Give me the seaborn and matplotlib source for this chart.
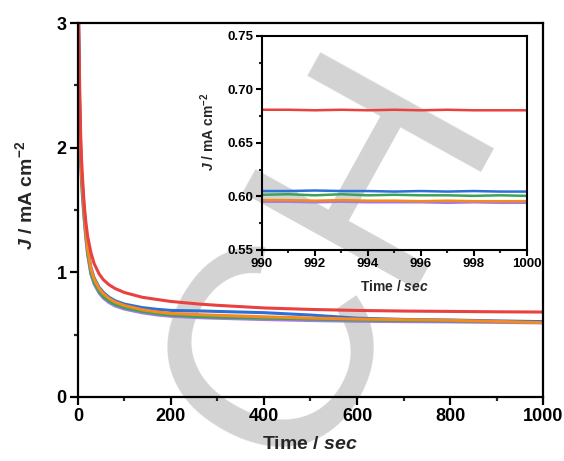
import matplotlib
matplotlib.use("Agg")
import matplotlib.pyplot as plt
import numpy as np
import pandas as pd
import seaborn as sns
from matplotlib.ticker import MultipleLocator, FormatStrFormatter

# ---- chronoamperometry data (J in mA cm^-2, time in s) ----
series_names = ["S1", "S2", "S3", "S4", "S5"]
series_colors = ["#e8413f", "#2c6fd8", "#3aa35b", "#f68a1e", "#a67be0"]

time_main = [0, 2, 4, 6, 8, 10, 13.5, 17, 21, 28, 35, 46, 55, 67, 80, 100,
             138, 170, 200, 261, 300, 400, 500, 600, 700, 800, 900, 1000]
j_s1 = [3.60, 3.00, 2.48, 2.12, 1.90, 1.76, 1.55, 1.41, 1.29, 1.16, 1.07,
        0.985, 0.94, 0.90, 0.87, 0.838, 0.800, 0.782, 0.766, 0.745, 0.735,
        0.714, 0.702, 0.694, 0.689, 0.686, 0.683, 0.681]
j_s2 = [3.50, 2.85, 2.33, 2.00, 1.81, 1.69, 1.51, 1.35, 1.20, 1.04, 0.955,
        0.878, 0.838, 0.800, 0.772, 0.745, 0.717, 0.703, 0.694, 0.690, 0.686,
        0.676, 0.657, 0.632, 0.622, 0.617, 0.610, 0.604]
j_s3 = [3.50, 2.78, 2.25, 1.93, 1.75, 1.63, 1.45, 1.30, 1.16, 1.00, 0.92,
        0.845, 0.805, 0.770, 0.743, 0.716, 0.687, 0.669, 0.657, 0.645, 0.640,
        0.633, 0.625, 0.618, 0.614, 0.610, 0.605, 0.600]
j_s4 = [2.92, 2.70, 2.30, 1.98, 1.80, 1.68, 1.50, 1.34, 1.19, 1.03, 0.945,
        0.868, 0.828, 0.790, 0.762, 0.733, 0.700, 0.682, 0.670, 0.660, 0.655,
        0.643, 0.633, 0.625, 0.620, 0.615, 0.606, 0.596]
j_s5 = [3.60, 2.75, 2.20, 1.90, 1.72, 1.60, 1.43, 1.28, 1.14, 0.985, 0.905,
        0.832, 0.792, 0.757, 0.730, 0.705, 0.675, 0.658, 0.647, 0.636, 0.631,
        0.621, 0.613, 0.607, 0.604, 0.602, 0.598, 0.594]

# last ten seconds, shown in the inset
time_end = [990, 991, 992, 993, 994, 995, 996, 997, 998, 999, 1000]
je_s1 = [0.681, 0.681, 0.6805, 0.681, 0.6805, 0.681, 0.6805, 0.681, 0.6805, 0.6805, 0.6805]
je_s2 = [0.605, 0.605, 0.6055, 0.605, 0.605, 0.6045, 0.605, 0.6045, 0.605, 0.6045, 0.6045]
je_s3 = [0.6015, 0.602, 0.601, 0.602, 0.601, 0.6015, 0.601, 0.601, 0.6005, 0.601, 0.6005]
je_s4 = [0.5965, 0.5965, 0.596, 0.5965, 0.596, 0.596, 0.5955, 0.596, 0.5955, 0.5955, 0.5955]
je_s5 = [0.595, 0.595, 0.5945, 0.595, 0.5945, 0.5945, 0.5945, 0.594, 0.5945, 0.594, 0.594]

main_curves = [j_s1, j_s2, j_s3, j_s4, j_s5]
end_curves = [je_s1, je_s2, je_s3, je_s4, je_s5]


def long_form(times, curves):
    frames = [pd.DataFrame({"t": times, "J": vals, "sample": name})
              for name, vals in zip(series_names, curves)]
    return pd.concat(frames, ignore_index=True)


df_main = long_form(time_main, main_curves)
df_end = long_form(time_end, end_curves)

# drawing order: purple at the back, red on top
draw_order = ["S5", "S3", "S2", "S4", "S1"]
palette = dict(zip(series_names, series_colors))

sns.set_theme(style="ticks")
plt.rcParams["font.family"] = ["Liberation Sans", "DejaVu Sans"]
plt.rcParams["font.weight"] = "bold"
plt.rcParams["axes.labelweight"] = "bold"
plt.rcParams["mathtext.fontset"] = "custom"
plt.rcParams["mathtext.rm"] = "Liberation Sans:bold"
plt.rcParams["mathtext.it"] = "Liberation Sans:italic:bold"
plt.rcParams["mathtext.bf"] = "Liberation Sans:bold"

fig = plt.figure(figsize=(5.64, 4.61), dpi=100, facecolor="white")

# grey watermark lettering behind everything
fig.text(0.637, 0.150, "ACH", fontsize=207, color="#d3d3d3",
         rotation=61, rotation_mode="anchor", ha="center", va="baseline",
         family="Liberation Sans", weight="normal", zorder=-10)


def style_axes(ax, lw, major_len, minor_len, label_size):
    ax.set_facecolor("none")
    for sp in ax.spines.values():
        sp.set_visible(True)
        sp.set_linewidth(lw)
        sp.set_color("black")
    ax.tick_params(which="major", direction="out", length=major_len, width=lw,
                   labelsize=label_size, colors="black", pad=2)
    ax.tick_params(which="minor", direction="out", length=minor_len, width=lw)
    for lab in ax.get_xticklabels() + ax.get_yticklabels():
        lab.set_fontweight("bold")


# ---- main panel ----
ax = fig.add_axes([0.138, 0.139, 0.825, 0.811])
for name in draw_order:
    sns.lineplot(data=df_main[df_main["sample"] == name], x="t", y="J",
                 color=palette[name], lw=2.2, sort=False, estimator=None,
                 legend=False, ax=ax)
ax.set_xlim(0, 1000)
ax.set_ylim(0, 3)
ax.xaxis.set_major_locator(MultipleLocator(200))
ax.xaxis.set_minor_locator(MultipleLocator(100))
ax.yaxis.set_major_locator(MultipleLocator(1))
ax.yaxis.set_minor_locator(MultipleLocator(0.5))
style_axes(ax, 1.6, 6, 3, 13)
ax.set_xlabel(r"Time / $\mathit{sec}$", fontsize=14, fontweight="bold", labelpad=8)
ax.set_ylabel(r"$\mathit{J}$ / mA cm$^{-2}$", fontsize=14, fontweight="bold")
ax.yaxis.set_label_coords(-0.09, 0.54)

# ---- inset: last ten seconds ----
axi = fig.add_axes([0.4645, 0.458, 0.4695, 0.464])
for name in draw_order:
    sns.lineplot(data=df_end[df_end["sample"] == name], x="t", y="J",
                 color=palette[name], lw=1.8, sort=False, estimator=None,
                 legend=False, ax=axi)
axi.set_xlim(990, 1000)
axi.set_ylim(0.55, 0.75)
axi.xaxis.set_major_locator(MultipleLocator(2))
axi.xaxis.set_minor_locator(MultipleLocator(1))
axi.yaxis.set_major_locator(MultipleLocator(0.05))
axi.yaxis.set_minor_locator(MultipleLocator(0.025))
axi.yaxis.set_major_formatter(FormatStrFormatter("%.2f"))
style_axes(axi, 1.5, 4, 2, 9.5)
axi.set_xlabel(r"Time / $\mathit{sec}$", fontsize=10, fontweight="bold", labelpad=6)
axi.set_ylabel(r"$\mathit{J}$ / mA cm$^{-2}$", fontsize=10, fontweight="bold")
axi.yaxis.set_label_coords(-0.17, 0.55)

fig.savefig("out.png", dpi=100, facecolor="white")
